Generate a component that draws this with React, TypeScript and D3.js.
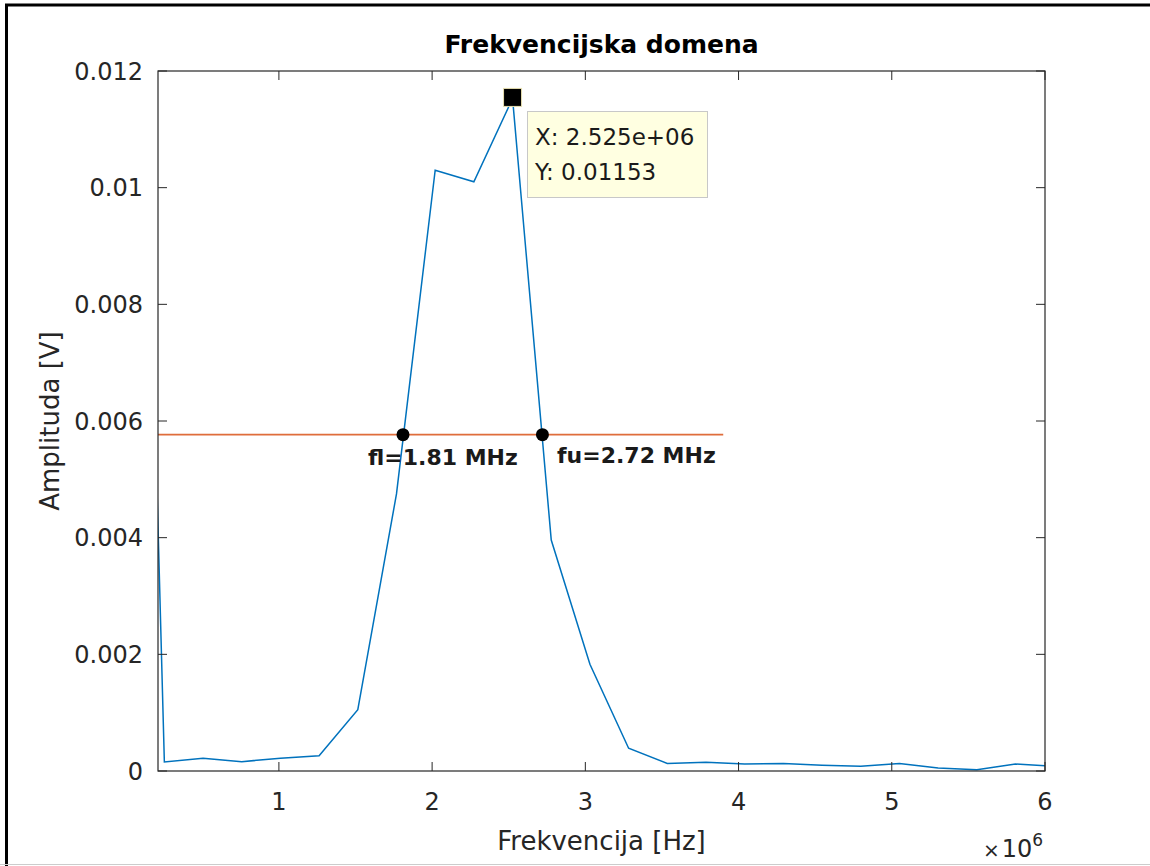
import React from "react";
import * as d3 from "d3";

const freqMHz = [0, 0.2525, 0.505, 0.7575, 1.01, 1.2625, 1.515, 1.7675, 2.02, 2.2725, 2.525, 2.7775, 3.03, 3.2825, 3.535, 3.7875, 4.04, 4.2925, 4.545, 4.7975, 5.05, 5.3025, 5.555, 5.8075, 6.06];
const amplitude = [0.0248, 0.000154, 0.00022, 0.00016, 0.00022, 0.00026, 0.00105, 0.00475, 0.0103, 0.0101, 0.01153, 0.00396, 0.00183, 0.00039, 0.00013, 0.00015, 0.00012, 0.00013, 0.0001, 0.00008, 0.00013, 0.00005, 0.00002, 0.00012, 0.00008];
const xTicks = [1, 2, 3, 4, 5, 6];
const yTicks = [0, 0.002, 0.004, 0.006, 0.008, 0.01, 0.012];
const yTickLabels = ["0", "0.002", "0.004", "0.006", "0.008", "0.01", "0.012"];
const halfLevel = 0.01153 / 2;
const halfLineX = [0, 3.9];
const cutoffs = [
  { f: 1.81, label: "fl=1.81 MHz" },
  { f: 2.72, label: "fu=2.72 MHz" },
];
const peak = { f: 2.525, a: 0.01153, xText: "X: 2.525e+06", yText: "Y: 0.01153" };

const FONT = "'DejaVu Sans', Verdana, sans-serif";
const AX = "#262626";

export default function App() {
  const left = 158, right = 1045, top = 71, bottom = 771;
  const x = d3.scaleLinear().domain([0.211, 6]).range([left, right]);
  const y = d3.scaleLinear().domain([0, 0.012]).range([bottom, top]);
  const line = d3.line<number>().x((_, i) => x(freqMHz[i])).y((d) => y(d));
  const px = x(peak.f), py = y(peak.a);

  return (
    <svg width={1150} height={866} style={{ position: "absolute", left: 0, top: 0, background: "#fff" }} fontFamily={FONT}>
      <defs>
        <clipPath id="plotClip">
          <rect x={left} y={top} width={right - left} height={bottom - top} />
        </clipPath>
      </defs>
      {/* outer frame */}
      <rect x={0} y={0} width={1150} height={866} fill="#fff" />
      <line x1={5} y1={5} x2={1150} y2={5} stroke="#000" strokeWidth={3} />
      <line x1={6.5} y1={4} x2={6.5} y2={866} stroke="#000" strokeWidth={3} />
      <line x1={0} y1={864.5} x2={1150} y2={864.5} stroke="#ccc" strokeWidth={1} />

      {/* title */}
      <text x={(left + right) / 2} y={53} textAnchor="middle" fontSize={25} fontWeight="bold" fill="#000">Frekvencijska domena</text>

      {/* data */}
      <g clipPath="url(#plotClip)">
        <line x1={x(halfLineX[0])} x2={x(halfLineX[1])} y1={y(halfLevel)} y2={y(halfLevel)} stroke="#D95319" strokeOpacity={0.85} strokeWidth={1.8} />
        <path d={line(amplitude) || ""} fill="none" stroke="#0072BD" strokeWidth={1.5} />
      </g>

      {/* axes box */}
      <rect x={left} y={top} width={right - left} height={bottom - top} fill="none" stroke={AX} strokeWidth={1.2} />
      {xTicks.map((t) => (
        <g key={"x" + t}>
          <line x1={x(t)} x2={x(t)} y1={bottom} y2={bottom - 9} stroke={AX} />
          <line x1={x(t)} x2={x(t)} y1={top} y2={top + 9} stroke={AX} />
          <text x={x(t)} y={810} textAnchor="middle" fontSize={24} fill={AX}>{t}</text>
        </g>
      ))}
      {yTicks.map((t, i) => (
        <g key={"y" + t}>
          <line x1={left} x2={left + 9} y1={y(t)} y2={y(t)} stroke={AX} />
          <line x1={right} x2={right - 9} y1={y(t)} y2={y(t)} stroke={AX} />
          <text x={143} y={y(t) + 8.5} textAnchor="end" fontSize={24} fill={AX}>{yTickLabels[i]}</text>
        </g>
      ))}
      <text x={(left + right) / 2} y={850} textAnchor="middle" fontSize={26} fill={AX}>Frekvencija [Hz]</text>
      <text transform={`translate(59, ${(top + bottom) / 2}) rotate(-90)`} textAnchor="middle" fontSize={26} fill={AX}>Amplituda [V]</text>
      <text x={983} y={857} fontSize={24} fill={AX}>
        <tspan fontSize={20}>×</tspan>
        <tspan dx={2}>10</tspan>
        <tspan dy={-11} fontSize={17}>6</tspan>
      </text>

      {/* cutoff markers */}
      {cutoffs.map((c) => (
        <circle key={c.label} cx={x(c.f)} cy={y(halfLevel)} r={6.5} fill="#000" />
      ))}
      <text x={368} y={465} fontSize={22} fontWeight="bold" fill="#1a1a1a">{cutoffs[0].label}</text>
      <text x={557} y={463} fontSize={22} fontWeight="bold" fill="#1a1a1a">{cutoffs[1].label}</text>

      {/* datatip */}
      <rect x={px - 9} y={py - 10} width={18} height={18} fill="#000" stroke="#e8e0b0" strokeWidth={1} />
      <rect x={527.5} y={111.5} width={180} height={86} fill="#FFFFE1" stroke="#c8c8c8" strokeWidth={1} />
      <text x={535} y={145} fontSize={23} fill="#1a1a1a">{peak.xText}</text>
      <text x={535} y={180} fontSize={23} fill="#1a1a1a">{peak.yText}</text>
    </svg>
  );
}
